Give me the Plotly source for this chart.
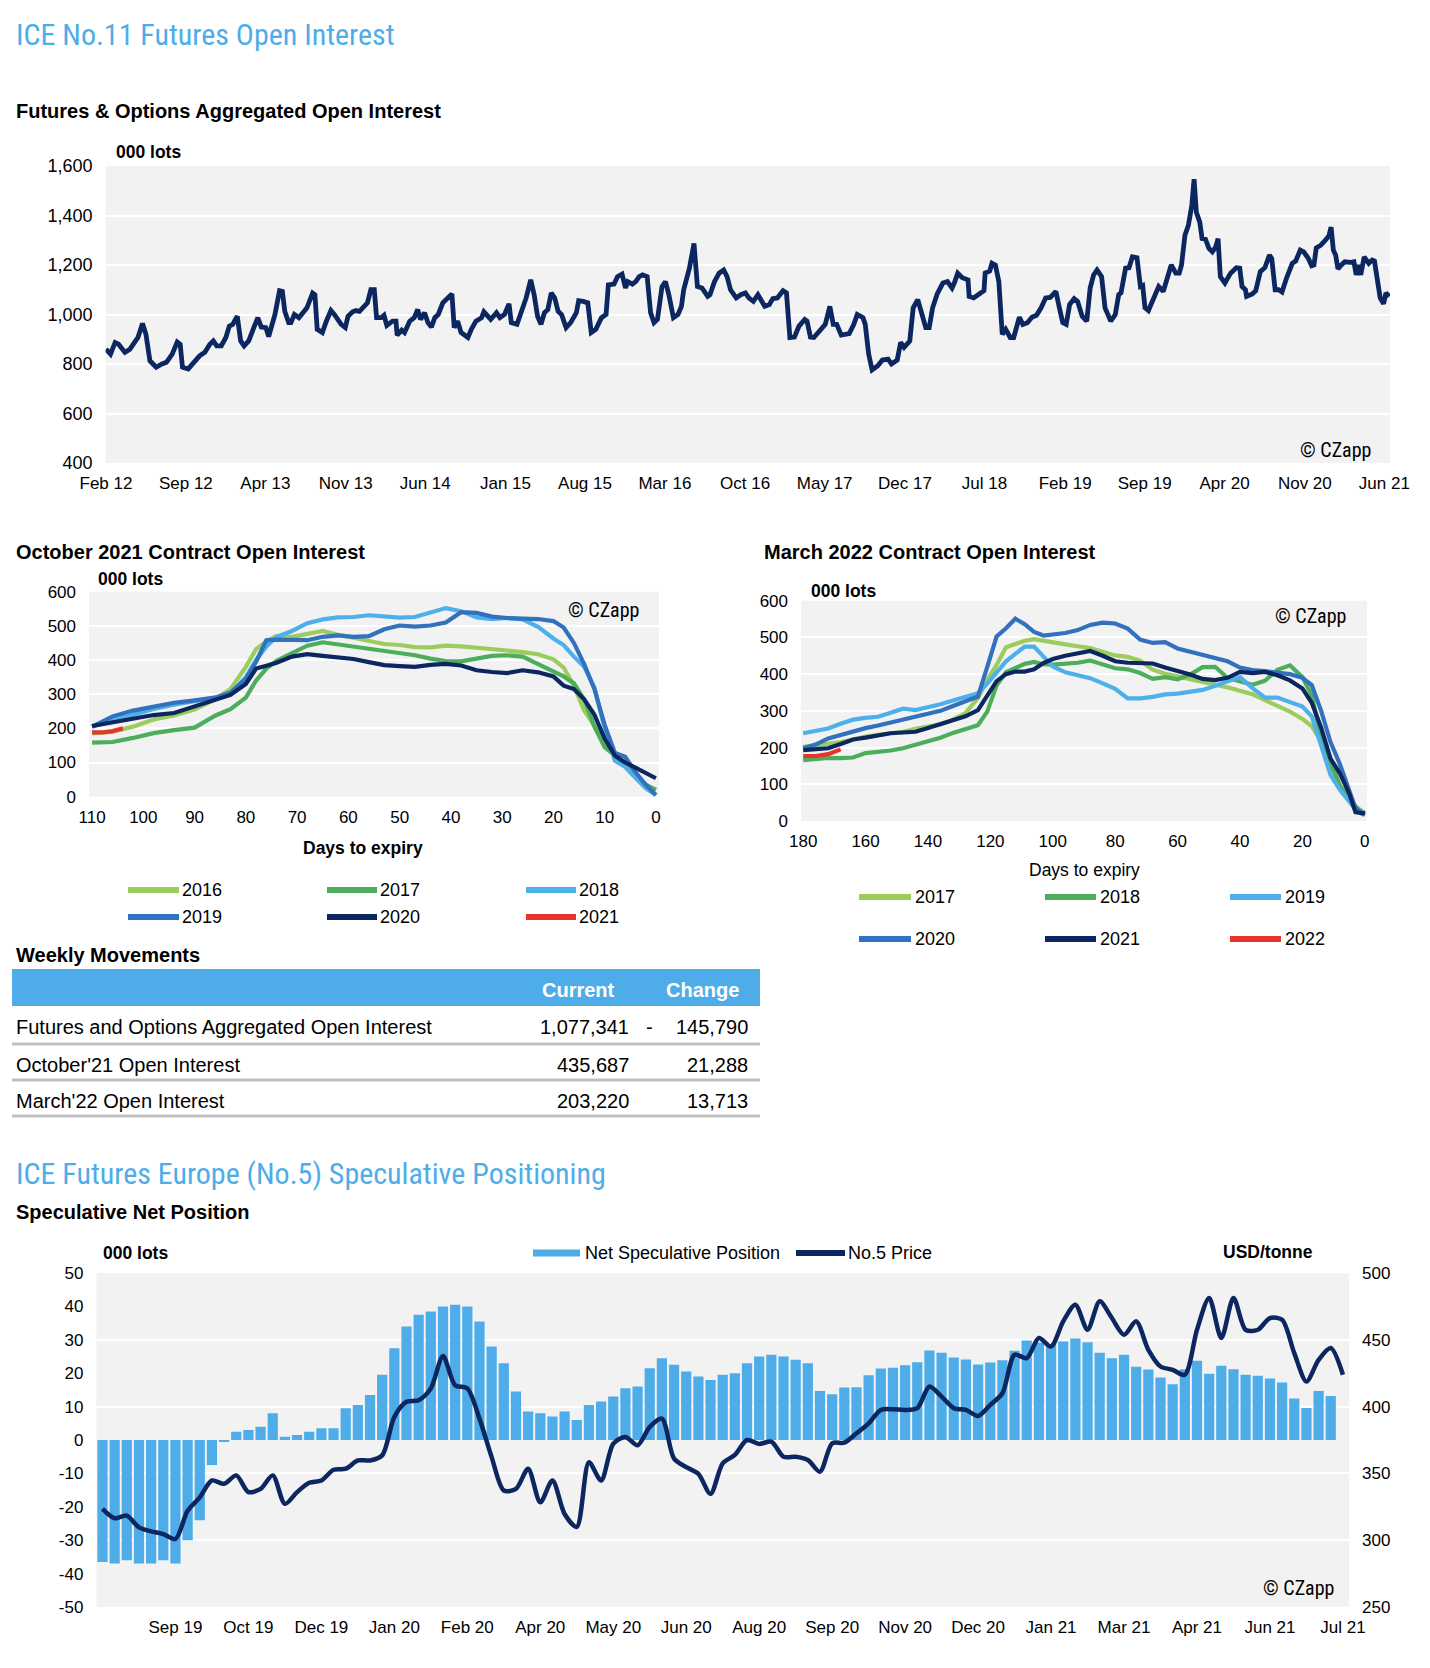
import pandas as pd
import plotly.graph_objects as go

W, H = 1430, 1668
OFF = 8  # page body margin of the html page

def px(x):
    return (x - OFF) / W

def py(y):
    return 1 - (y - OFF) / H

# ---------------- DATA ----------------
# Chart 1: Futures & Options aggregated open interest (000 lots), x = months since Feb 2012
oi_months = [
    0, 0.4, 0.8, 1.1, 1.66, 2.1, 2.5, 2.8, 3.2, 3.5, 3.85, 4.4, 4.9, 5.3, 5.8, 6.24, 6.5, 6.7, 7.2, 7.8,
    8.2, 8.66, 9.1, 9.4, 9.7, 10.1, 10.5, 10.8, 11.1, 11.5, 11.8, 12.1, 12.5, 13.0, 13.3, 13.6, 14.0, 14.25,
    14.8, 15.2, 15.45, 15.66, 16.0, 16.2, 16.5, 16.9, 17.3, 17.6, 18.1, 18.3, 18.5, 18.95, 19.3, 19.7, 20.0,
    20.6, 20.96, 21.2, 21.6, 21.9, 22.2, 22.6, 22.9, 23.2, 23.5, 23.7, 24.1, 24.35, 24.6, 25.1, 25.4, 25.5,
    25.9, 26.15, 26.6, 27.0, 27.3, 27.55,
    27.9, 28.2, 28.5, 28.8, 29.1, 29.5, 29.9, 30.3, 30.5, 30.8, 31.1, 31.7, 32.0, 32.4, 32.9, 33.1, 33.7,
    34.2, 34.5, 34.9, 35.3, 35.5, 36.0, 36.5, 36.8, 37.2, 37.5, 37.8, 38.1, 38.4, 38.7, 39.0, 39.3, 39.6,
    39.9, 40.3, 40.7, 41.2, 41.4, 41.8, 42.2, 42.5, 42.9, 43.4, 43.8, 44.0, 44.5, 44.8, 45.2, 45.5, 45.7,
    46.1, 46.4, 46.7, 47.0, 47.4, 47.7, 48.0, 48.3, 48.7, 49.0, 49.3, 49.7, 50.1, 50.4, 50.6, 51.1, 51.5,
    51.8, 52.2, 52.7, 52.9, 53.3, 53.7, 54.1, 54.4, 54.7, 55.2, 55.6, 56.0, 56.3, 56.7, 57.1,
    57.7, 58.1, 58.4, 58.8, 59.3, 59.6, 59.9, 60.3, 60.7, 61.2, 61.4, 61.7, 62.0, 62.5, 63.0, 63.4, 63.7,
    64.0, 64.4, 65.1, 65.5, 65.8, 66.3, 66.5, 66.8, 67.1, 67.6, 68.0, 68.5, 68.8, 69.3, 69.6, 69.9, 70.4,
    70.7, 71.1, 71.5, 71.8, 72.1, 72.4, 72.8, 73.3, 73.7, 74.1, 74.3, 74.6, 75.0, 75.5, 75.6, 76.0, 76.6,
    76.9, 77.0, 77.4, 77.6, 77.9, 78.2, 78.5, 78.8, 79.2, 79.5, 80.0, 80.3, 80.7, 81.1, 81.5, 81.9, 82.3,
    82.7, 83.2, 83.5, 83.8, 84.1, 84.4, 84.8, 85.1,
    85.5, 85.9, 86.2, 86.5, 86.8, 87.2, 87.5, 88.0, 88.4, 88.7, 88.9, 89.3, 89.6, 89.9, 90.3, 90.6, 90.8,
    91.0, 91.3, 91.8, 92.2, 92.6, 92.9, 93.3, 93.7, 94.0, 94.2, 94.5, 94.8, 95.1, 95.3, 95.5, 95.8, 96.0,
    96.3, 96.6, 96.9, 97.2, 97.4, 97.6, 98.0, 98.5, 99.0, 99.3, 99.5, 99.8, 99.9, 100.4, 100.7, 101.1,
    101.5, 101.9, 102.1, 102.4, 102.7, 103.0, 103.4, 103.9, 104.2, 104.6, 104.9, 105.3, 105.6, 105.8,
    106.0, 106.4, 106.8, 107.1, 107.3, 107.5, 107.7, 107.9, 108.2, 108.5, 109.0, 109.3, 109.5, 109.7,
    109.9, 110.2, 110.6, 110.9, 111.1, 111.4, 111.6, 111.9, 112.1, 112.4,
]
oi_values = [
    860, 840, 887, 880, 847, 860, 887, 907, 964, 920, 813, 787, 800, 807, 840, 889, 880, 787, 780, 813,
    833, 847, 880, 893, 873, 873, 907, 953, 960, 993, 893, 873, 893, 953, 987, 949, 947, 911,
    1000, 1096, 1093, 1013, 967, 967, 1000, 987, 1007, 1027, 1087, 1080, 940, 927, 973, 1016, 1000,
    960, 947, 993, 1011, 1016, 1013, 1033, 1047, 1100, 1100, 987, 987, 997, 956, 973, 973, 916,
    937, 927, 973, 987, 1020, 980,
    1007, 967, 949, 987, 1000, 1047, 1067, 1083, 947, 973, 927, 907, 940, 973, 987, 1011, 980,
    1007, 987, 1000, 1043, 967, 960, 1027, 1067, 1140, 1080, 993, 960, 1007, 1020, 1087, 1067, 1013,
    1000, 947, 967, 1007, 1056, 1053, 1047, 927, 940, 987, 1000, 1120, 1123, 1153, 1163, 1107, 1133,
    1123, 1133, 1153, 1160, 1153, 1007, 967, 980, 1113, 1133, 1080, 987, 1000, 1033, 1100, 1187, 1287,
    1113, 1107, 1073, 1080, 1133, 1167, 1180, 1153, 1100, 1067, 1080, 1087, 1067, 1053, 1080,
    1033, 1040, 1064, 1067, 1096, 1087, 907, 909, 953, 980, 973, 909, 907, 933, 960, 1033, 960,
    960, 917, 923, 960, 1000, 987, 960, 840, 776, 793, 816, 820, 800, 816, 887, 867, 893,
    1027, 1060, 1000, 947, 947, 1027, 1083, 1127, 1133, 1107, 1127, 1167, 1149, 1140, 1073, 1067, 1087,
    1096, 1167, 1176, 1207, 1200, 1133, 920, 940, 907, 907, 989, 960, 967, 989, 997, 1027, 1067,
    1069, 1093, 1027, 967, 960, 1040, 1064, 1053,
    993, 973, 1107, 1160, 1180, 1153, 1027, 973, 1000, 1080, 1087, 1187, 1189, 1233, 1229, 1113, 1117,
    1027, 1016, 1067, 1113, 1093, 1133, 1200, 1167, 1167, 1200, 1320, 1360, 1440, 1547, 1413, 1373, 1307,
    1304, 1267, 1253, 1273, 1307, 1153, 1127, 1167, 1189, 1187, 1113, 1100, 1073, 1083, 1096, 1173,
    1189, 1240, 1227, 1100, 1100, 1091, 1147, 1207, 1216, 1260, 1253, 1227, 1197, 1200,
    1269, 1280, 1300, 1317, 1353, 1260, 1240, 1184, 1200, 1213, 1211, 1213, 1160, 1200,
    1160, 1233, 1207, 1220, 1216, 1133, 1067, 1043, 1087, 1073,
]
oi_tick_labels = ["Feb 12", "Sep 12", "Apr 13", "Nov 13", "Jun 14", "Jan 15", "Aug 15", "Mar 16",
                  "Oct 16", "May 17", "Dec 17", "Jul 18", "Feb 19", "Sep 19", "Apr 20", "Nov 20", "Jun 21"]

# Chart 2: October contract open interest (000 lots) by days to expiry
oct_days = [110, 106, 102, 98, 94, 90, 86, 83, 80, 78, 76, 74, 71, 68, 65, 62, 59, 56, 53, 50,
            47, 44, 41, 38, 35, 32, 29, 26, 23, 20, 18, 16, 14, 12, 10, 8, 6, 4, 2, 0]
oct_2016 = [185, 190, 205, 226, 238, 255, 285, 315, 380, 432, 455, 470, 468, 475, 485, 474, 466, 455, 447, 444,
            438, 437, 442, 440, 437, 433, 428, 423, 417, 402, 378, 325, 252, 208, 157, 118, 85, 56, 33, 20]
oct_2017 = [158, 160, 172, 186, 195, 202, 237, 256, 290, 340, 375, 398, 420, 442, 452, 446, 437, 433, 427, 422,
            414, 404, 397, 396, 405, 412, 414, 410, 388, 366, 352, 332, 285, 205, 145, 120, 98, 65, 35, 20]
oct_2018 = [205, 222, 240, 257, 269, 278, 290, 303, 350, 400, 440, 468, 485, 508, 519, 525, 526, 531, 526, 524,
            526, 540, 552, 543, 525, 520, 523, 519, 497, 463, 444, 410, 380, 320, 200, 105, 88, 55, 25, 5]
oct_2019 = [205, 235, 252, 263, 275, 282, 290, 305, 345, 395, 458, 460, 458, 458, 468, 472, 468, 470, 490, 501,
            498, 501, 510, 540, 538, 527, 523, 523, 520, 514, 495, 450, 388, 315, 210, 128, 117, 72, 35, 5]
oct_2020 = [207, 218, 231, 239, 245, 265, 283, 298, 330, 375, 383, 392, 410, 417, 412, 408, 403, 394, 385, 382,
            380, 386, 389, 384, 370, 365, 362, 370, 364, 352, 325, 315, 285, 240, 170, 120, 100, 85, 68, 54]
oct_2021_days = [110, 108, 106, 104]
oct_2021 = [188, 188, 192, 200]

# Chart 3: March contract open interest (000 lots) by days to expiry
mar_days = [180, 176, 172, 168, 164, 160, 156, 152, 148, 144, 140, 136, 132, 128, 124,
            121, 118, 115, 112, 109, 106, 103, 100,
            96, 92, 88, 84, 80, 76, 72, 68, 64, 60, 56, 52, 48, 44, 40, 36, 32, 28, 24, 20,
            17, 14, 11, 8, 5, 3, 1, 0]
mar_2017 = [202, 206, 211, 215, 222, 230, 235, 238, 243, 251, 256, 263, 276, 294, 335,
            384, 425, 473, 482, 491, 495, 490, 486,
            481, 476, 471, 461, 451, 447, 437, 412, 401, 394, 387, 379, 371, 364, 355, 345, 329, 314, 298, 278,
            258, 216, 150, 97, 58, 40, 27, 21]
mar_2018 = [166, 169, 172, 171, 173, 185, 188, 192, 198, 207, 217, 227, 240, 251, 261,
            298, 370, 405, 418, 428, 433, 427, 426,
            428, 431, 437, 427, 416, 413, 403, 387, 392, 386, 399, 419, 420, 390, 380, 371, 382, 412, 424, 392,
            342, 228, 160, 97, 58, 38, 22, 16]
mar_2019 = [239, 245, 252, 265, 276, 281, 284, 295, 306, 302, 309, 318, 328, 337, 348,
            374, 404, 435, 455, 475, 475, 446, 421,
            405, 396, 389, 375, 360, 334, 334, 338, 345, 347, 351, 357, 368, 379, 392, 362, 336, 336, 324, 312,
            285, 208, 126, 85, 52, 32, 20, 16]
mar_2020 = [198, 208, 225, 235, 245, 253, 260, 268, 276, 284, 292, 300, 313, 325, 339,
            420, 503, 525, 551, 536, 515, 505, 508,
            512, 520, 534, 540, 538, 524, 494, 485, 487, 470, 461, 453, 443, 435, 418, 411, 408, 404, 400, 390,
            370, 300, 215, 155, 80, 35, 24, 21]
mar_2021 = [193, 195, 198, 210, 222, 227, 232, 239, 241, 243, 253, 263, 273, 285, 302,
            341, 381, 400, 407, 407, 413, 430, 441,
            450, 457, 463, 450, 435, 431, 431, 429, 418, 409, 399, 387, 384, 390, 406, 403, 406, 397, 383, 361,
            322, 254, 170, 130, 75, 24, 21, 20]
mar_2022_days = [180, 176, 172, 168]
mar_2022 = [177, 177, 182, 195]

# Weekly movements table
table_rows = ["Futures and Options Aggregated Open Interest", "October'21 Open Interest", "March'22 Open Interest"]
table_current = ["1,077,341", "435,687", "203,220"]
table_change = ["145,790", "21,288", "13,713"]
table_change_sign = ["-", "", ""]

# Bottom chart: ICE No.5 speculative net position (000 lots, weekly) and No.5 price (USD/tonne)
week_start = "2019-07-30"
net_spec = [-36.5, -37, -36, -37, -37, -36, -37, -30, -24, -7.5,
            -0.5, 2.5, 3, 4, 8, 1, 1.5, 2.5, 3.5, 3.5,
            9.5, 10.5, 13.5, 19.5, 27.5, 34, 37.5, 38.5, 40, 40.5,
            40, 35.5, 28, 23, 14.5, 8.5, 8, 7, 8.5, 6,
            10.5, 11.5, 13, 15.5, 16, 21.5, 24.5, 22.5, 20.5, 19,
            18, 19.5, 20, 23, 25, 25.5, 25, 24, 23, 14.7,
            13.7, 15.7, 15.8, 19.4, 21.4, 21.6, 22.4, 23.3, 26.8, 26.1,
            24.7, 24.1, 22.6, 23.2, 23.9, 26.7, 29.8, 29.2, 28.7, 29.5,
            30.4, 29.3, 26.1, 24.5, 25.5, 21.9, 21.1, 18.7, 16.7, 21.2,
            23.7, 19.8, 22.2, 21.2, 19.5, 19.2, 18.4, 17.2, 12.4, 9.6,
            14.7, 13.2]
no5_price = [323.4, 316.4, 318.4, 309.6, 306.6, 304.6, 300.9, 322, 332, 344.7,
             342.2, 348.5, 336, 338.4, 348.5, 327.2, 336, 343, 344.7, 352.7,
             353.5, 359.7, 359.7, 363.5, 392.3, 403.6, 404.8, 413.6, 437.9, 416,
             413.6, 391, 362.2, 337.2, 338.4, 353.5, 328.4, 344.7, 319.6, 310,
             358.4, 344.7, 372.2, 377.3, 371, 384.8, 391, 361, 354.7, 349.7,
             334.7, 357.5, 363.8, 375, 372, 373.8, 362.5, 362.5, 360, 351.3,
             372.5, 373, 380, 387.5, 397.5, 398, 397.5, 398.8, 415, 407.5,
             398.8, 397.5, 393, 401.3, 410, 438.8, 436.3, 451.3, 445, 463.8,
             476.3, 457.5, 478.8, 466.3, 453.8, 463.8, 442.5, 430, 427.5, 423.8,
             457.5, 481.3, 451.3, 481.3, 457.5, 457.5, 466.3, 465, 440, 418.8,
             435, 443.8, 423.8]
spec_tick_labels = ["Sep 19", "Oct 19", "Dec 19", "Jan 20", "Feb 20", "Apr 20", "May 20", "Jun 20", "Aug 20",
                    "Sep 20", "Nov 20", "Dec 20", "Jan 21", "Mar 21", "Apr 21", "Jun 21", "Jul 21"]
spec_left_ticks = [-50, -40, -30, -20, -10, 0, 10, 20, 30, 40, 50]

# ---------------- STYLE ----------------
FONT = "Liberation Sans, Arial, Helvetica, sans-serif"
NARROW = "Liberation Sans Narrow, Arial Narrow, Roboto Condensed, Liberation Sans, sans-serif"
TITLE_BLUE = "#4EADE8"
C_LGREEN = "#9DCC5E"
C_GREEN = "#4CAD5B"
C_LBLUE = "#4EB0EA"
C_BLUE = "#3271BE"
C_NAVY = "#0C2660"
C_RED = "#E8352A"
BAR_BLUE = "#4EADE8"
GRID = "white"
TICKF = dict(family=FONT, size=17, color="#000000")
TICKF_Y1 = dict(family=FONT, size=18, color="#000000")

fig = go.Figure()

# Chart 1
base = pd.Timestamp("2012-02-01")
oi_dates = [base + pd.Timedelta(days=m * 30.4375) for m in oi_months]
tick_dates = pd.date_range("2012-02-01", periods=len(oi_tick_labels), freq="7MS")
fig.add_trace(go.Scatter(x=oi_dates, y=oi_values, mode="lines", line=dict(color=C_NAVY, width=4.8),
                         xaxis="x", yaxis="y", showlegend=False))

# Chart 2
oct_series = [("2016", oct_days, oct_2016, C_LGREEN), ("2017", oct_days, oct_2017, C_GREEN),
              ("2018", oct_days, oct_2018, C_LBLUE), ("2019", oct_days, oct_2019, C_BLUE),
              ("2020", oct_days, oct_2020, C_NAVY), ("2021", oct_2021_days, oct_2021, C_RED)]
for name, xs, ys, col in oct_series:
    fig.add_trace(go.Scatter(x=xs, y=ys, mode="lines", name=name, line=dict(color=col, width=4.2),
                             xaxis="x2", yaxis="y2", showlegend=False))

# Chart 3
mar_series = [("2017", mar_days, mar_2017, C_LGREEN), ("2018", mar_days, mar_2018, C_GREEN),
              ("2019", mar_days, mar_2019, C_LBLUE), ("2020", mar_days, mar_2020, C_BLUE),
              ("2021", mar_days, mar_2021, C_NAVY), ("2022", mar_2022_days, mar_2022, C_RED)]
for name, xs, ys, col in mar_series:
    fig.add_trace(go.Scatter(x=xs, y=ys, mode="lines", name=name, line=dict(color=col, width=4.2),
                             xaxis="x3", yaxis="y3", showlegend=False))

# Bottom chart
n_slots = 103
slot_dates = [d.strftime("%Y-%m-%d") for d in pd.date_range(week_start, periods=n_slots, freq="7D")]
fig.add_trace(go.Bar(x=slot_dates[:len(net_spec)], y=net_spec, marker=dict(color=BAR_BLUE, line=dict(width=0)),
                     xaxis="x4", yaxis="y4", showlegend=False, name="Net Speculative Position"))
fig.add_trace(go.Scatter(x=slot_dates[:len(no5_price)], y=no5_price, mode="lines",
                         line=dict(color=C_NAVY, width=4.5, shape="spline", smoothing=0.8),
                         xaxis="x4", yaxis="y5", showlegend=False, name="No.5 Price"))
spec_tickvals = [slot_dates[6 + 6 * i] for i in range(len(spec_tick_labels))]

ax_common = dict(showline=False, zeroline=False, ticks="", tickfont=TICKF, fixedrange=True, automargin=False)

fig.update_layout(
    width=W, height=H, margin=dict(l=0, r=0, t=0, b=0, autoexpand=False),
    paper_bgcolor="white", plot_bgcolor="#F2F2F2",
    font=dict(family=FONT, color="#000000"),
    bargap=0.16,
    xaxis=dict(ax_common, type="date", domain=[px(105.6), px(1390)], anchor="y",
               range=[base - pd.Timedelta(days=1), pd.Timestamp("2021-06-16")],
               tickvals=list(tick_dates), ticktext=oi_tick_labels, showgrid=False, ticklabelstandoff=8),
    yaxis=dict(ax_common, domain=[py(463), py(166)], anchor="x", range=[400, 1600], dtick=200,
               tickformat=",", gridcolor=GRID, gridwidth=2, ticklabelstandoff=12, tickfont=TICKF_Y1),
    xaxis2=dict(ax_common, domain=[px(89), px(659)], anchor="y2", range=[110.6, -0.6], dtick=10,
                tick0=0, showgrid=False, ticklabelstandoff=8),
    yaxis2=dict(ax_common, domain=[py(796.7), py(591.7)], anchor="x2", range=[0, 600], dtick=100,
                gridcolor=GRID, gridwidth=2, ticklabelstandoff=12),
    xaxis3=dict(ax_common, domain=[px(801), px(1367)], anchor="y3", range=[180.7, -0.7], dtick=20,
                tick0=0, showgrid=False, ticklabelstandoff=8),
    yaxis3=dict(ax_common, domain=[py(821), py(600.7)], anchor="x3", range=[0, 600], dtick=100,
                gridcolor=GRID, gridwidth=2, ticklabelstandoff=12),
    xaxis4=dict(ax_common, type="category", domain=[px(96.4), px(1349)], anchor="y4",
                categoryorder="array", categoryarray=slot_dates,
                range=[-0.5, n_slots - 0.5], tickvals=spec_tickvals, ticktext=spec_tick_labels,
                showgrid=False, ticklabelstandoff=8),
    yaxis4=dict(ax_common, domain=[py(1607), py(1273)], anchor="x4", range=[-50, 50],
                tickvals=spec_left_ticks, ticktext=[str(v) for v in spec_left_ticks],
                showgrid=False, ticklabelstandoff=12),
    yaxis5=dict(ax_common, overlaying="y4", side="right", anchor="x4", range=[250, 500], dtick=50,
                gridcolor=GRID, gridwidth=2, ticklabelstandoff=12),
)

ann = []
shapes = []

def text(x, y, s, size=17, bold=False, color="#000000", family=FONT, xanchor="left", yanchor="middle"):
    ann.append(dict(x=px(x), y=py(y), xref="paper", yref="paper", text=("<b>%s</b>" % s) if bold else s,
                    showarrow=False, xanchor=xanchor, yanchor=yanchor,
                    font=dict(size=size, color=color, family=family)))

def hline(x0, x1, y, color, width):
    shapes.append(dict(type="line", xref="paper", yref="paper", x0=px(x0), x1=px(x1), y0=py(y), y1=py(y),
                       line=dict(color=color, width=width)))

# Section 1 texts
text(14, 34, "ICE No.11 Futures Open Interest", size=30, color=TITLE_BLUE, family=NARROW)
text(14, 111, "Futures & Options Aggregated Open Interest", size=20, bold=True)
text(114, 152, "000 lots", size=17.5, bold=True)
text(1373, 450, "© CZapp", size=20, family=NARROW, xanchor="right")

# Chart 2 texts
text(14, 552, "October 2021 Contract Open Interest", size=20, bold=True)
text(96, 579, "000 lots", size=17.5, bold=True)
text(641, 610, "© CZapp", size=20, family=NARROW, xanchor="right")
text(363, 848, "Days to expiry", size=17.5, bold=True, xanchor="center")
leg2_x = [(128, 179), (327, 377), (526, 576)]
leg2_y = [890, 917]
for i, (name, xs, ys, col) in enumerate(oct_series):
    x0, x1 = leg2_x[i % 3]
    yy = leg2_y[i // 3]
    hline(x0, x1, yy, col, 6)
    text(x1 + 1, yy, name, size=18)

# Chart 3 texts
text(762, 552, "March 2022 Contract Open Interest", size=20, bold=True)
text(809, 591, "000 lots", size=17.5, bold=True)
text(1348, 616, "© CZapp", size=20, family=NARROW, xanchor="right")
text(1084, 870, "Days to expiry", size=17.5, xanchor="center")
leg3_x = [(859, 911), (1045, 1096), (1230, 1281)]
leg3_y = [897, 939]
for i, (name, xs, ys, col) in enumerate(mar_series):
    x0, x1 = leg3_x[i % 3]
    yy = leg3_y[i // 3]
    hline(x0, x1, yy, col, 6)
    text(x1 + 2, yy, name, size=18)

# Table
text(14, 955, "Weekly Movements", size=20, bold=True)
shapes.append(dict(type="rect", xref="paper", yref="paper", x0=px(12), x1=px(760), y0=py(1006), y1=py(969),
                   fillcolor=TITLE_BLUE, line=dict(width=0)))
text(578, 990, "Current", size=20, bold=True, color="white", xanchor="center")
text(702, 990, "Change", size=20, bold=True, color="white", xanchor="center")
row_y = [1027, 1065, 1101]
sep_y = [1044, 1080, 1116]
for i in range(len(table_rows)):
    text(14, row_y[i], table_rows[i], size=20)
    text(631, row_y[i], table_current[i], size=20, xanchor="right")
    text(750, row_y[i], table_change[i], size=20, xanchor="right")
    if table_change_sign[i]:
        text(649, row_y[i], table_change_sign[i], size=20, xanchor="center")
    hline(12, 760, sep_y[i], "#BFBFBF", 3)

# Bottom section texts
text(14, 1173, "ICE Futures Europe (No.5) Speculative Positioning", size=30, color=TITLE_BLUE, family=NARROW)
text(14, 1212, "Speculative Net Position", size=20, bold=True)
text(101, 1253, "000 lots", size=17.5, bold=True)
text(1315, 1252, "USD/tonne", size=17.5, bold=True, xanchor="right")
hline(533, 580, 1253, BAR_BLUE, 7)
text(583, 1253, "Net Speculative Position", size=18)
hline(796, 845, 1253, C_NAVY, 6)
text(846, 1253, "No.5 Price", size=18)
text(1336, 1588, "© CZapp", size=20, family=NARROW, xanchor="right")

fig.update_layout(annotations=ann, shapes=shapes)

fig.write_html("out.html")
